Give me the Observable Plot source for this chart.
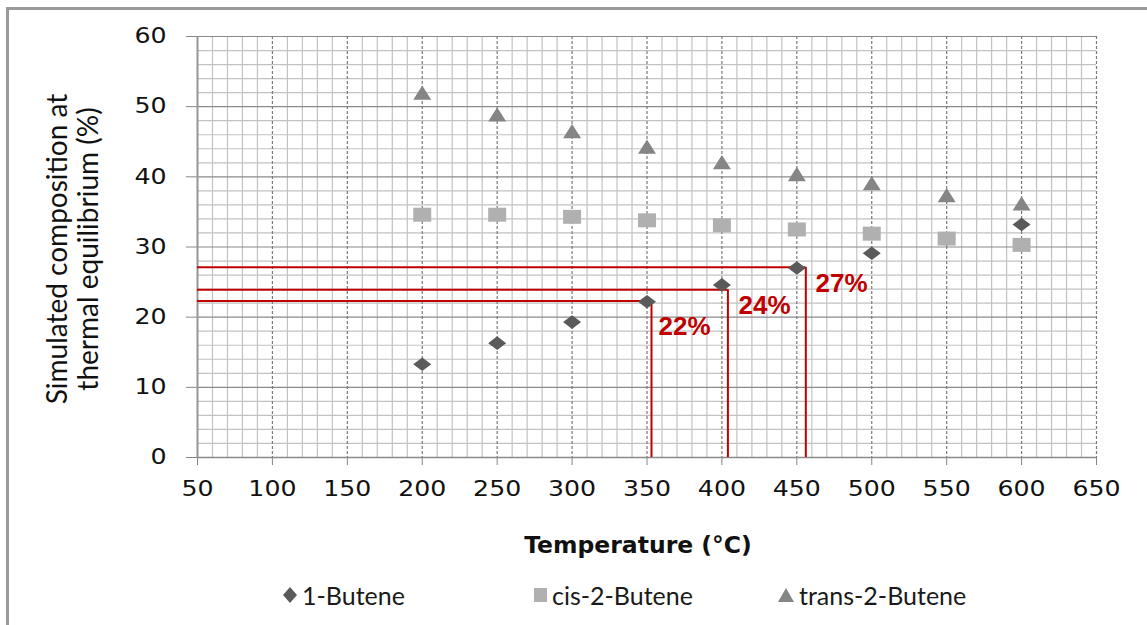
<!DOCTYPE html>
<html>
<head>
<meta charset="utf-8">
<script src="https://cdn.jsdelivr.net/npm/d3@7"></script>
<script src="https://cdn.jsdelivr.net/npm/@observablehq/plot@0.6"></script>
<style>
  html, body { margin: 0; padding: 0; background: #fff; }
  body { width: 1147px; height: 625px; overflow: hidden; position: relative; }
  #frame { position: absolute; left: 6px; top: 7px; width: 1300px; height: 800px;
           border-left: 3px solid #9a9a9a; border-top: 3px solid #9a9a9a; pointer-events: none; }
  #chart { position: absolute; left: 0; top: 0; }
  #legend { position: absolute; left: 0; top: 570px; width: 1147px; height: 55px;
            font-family: Lato, "Noto Sans", sans-serif; font-size: 25px; color: #1a1a1a; }
  .item { position: absolute; top: 0; height: 50px; display: flex; align-items: center; white-space: nowrap; }
  .item svg { display: block; margin-right: 5px; }
  #chart g[aria-label="x-axis tick"], #chart g[aria-label="y-axis tick"] { stroke: #868686; }
  #chart g[aria-label="x-axis"] .tick line, #chart g[aria-label="y-axis"] .tick line { stroke: #868686; }
  #chart g[aria-label="x-axis"] .domain, #chart g[aria-label="y-axis"] .domain { display: none; }
</style>
</head>
<body>
<div id="chart"></div>
<div id="legend"></div>
<div id="frame"></div>
<script>
// ---------- data ----------
const temperature = [200, 250, 300, 350, 400, 450, 500, 550, 600];
const butene1     = [13.3, 16.3, 19.3, 22.2, 24.6, 27.0, 29.1, 31.1, 33.2];
const cis2butene  = [34.6, 34.6, 34.3, 33.8, 33.1, 32.5, 31.9, 31.2, 30.3];
const trans2butene= [52.0, 48.9, 46.5, 44.3, 42.1, 40.4, 39.1, 37.4, 36.2];
const seriesNames = ["1-Butene", "cis-2-Butene", "trans-2-Butene"];

const xDomain = [50, 650];
const yDomain = [0, 60];
const xTicks = [50, 100, 150, 200, 250, 300, 350, 400, 450, 500, 550, 600, 650];
const yTicks = [0, 10, 20, 30, 40, 50, 60];
const xMinorStep = 10;
const yMinorStep = 2;

// red guide lines (temperature, composition) and their labels
const guideTemps  = [353, 404, 456];
const guideValues = [22.3, 23.9, 27.1];
const guideLabels = ["22%", "24%", "27%"];
const labelTemps  = [357.7, 411.1, 462.5];
const labelValues = [17.4, 20.5, 23.6];

const xTitle = "Temperature (°C)";
const yTitle = "Simulated composition at\nthermal equilibrium (%)";

// ---------- derived tables ----------
const rows = (vals) => temperature.map((t, i) => ({t, v: vals[i]}));
const guides = guideLabels.map((label, i) => ({t: guideTemps[i], v: guideValues[i], lt: labelTemps[i], lv: labelValues[i], label}));
const xMinor = d3.range(xDomain[0], xDomain[1] + 1, xMinorStep).filter(v => !xTicks.includes(v));
const yMinor = d3.range(yDomain[0], yDomain[1] + 1, yMinorStep).filter(v => !yTicks.includes(v));
const xMajor = xTicks.filter(v => v !== xDomain[0]);
const yMajor = yTicks.filter(v => v !== yDomain[0]);

// stretched marker shapes like the original
const diamond = {draw(c) { c.moveTo(0, -6.8); c.lineTo(9, 0); c.lineTo(0, 6.8); c.lineTo(-9, 0); c.closePath(); }};
const square  = {draw(c) { c.rect(-9, -7, 18, 14); }};
const triangle= {draw(c) { c.moveTo(0, -7.2); c.lineTo(9, 7.1); c.lineTo(-9, 7.1); c.closePath(); }};
const colors = ["#5a5a5a", "#b0b0b0", "#858585"];

const plot = Plot.plot({
  width: 1147,
  height: 570,
  marginLeft: 197,
  marginRight: 51,
  marginTop: 36,
  marginBottom: 113,
  style: {fontFamily: "'DejaVu Sans', Verdana, sans-serif", fontSize: "21px", color: "#111", background: "transparent", overflow: "visible"},
  x: {domain: xDomain, ticks: xTicks, tickSize: 8, tickPadding: 16, label: null},
  y: {domain: yDomain, ticks: yTicks, tickSize: 11, tickPadding: 20, label: null},
  marks: [
    Plot.ruleX(xMinor, {stroke: "#c2c2c2", strokeWidth: 1.2}),
    Plot.ruleY(yMinor, {stroke: "#c2c2c2", strokeWidth: 1.2}),
    Plot.ruleY(yMajor, {stroke: "#8a8a8a", strokeWidth: 1.2}),
    Plot.ruleX(xMajor, {stroke: "#7a7a7a", strokeWidth: 1.2, strokeDasharray: "3,2"}),
    Plot.ruleX([xDomain[0]], {stroke: "#959595", strokeWidth: 2}),
    Plot.ruleY([yDomain[0]], {stroke: "#8a8a8a", strokeWidth: 1.5}),
    Plot.ruleY(guides, {y: "v", x1: () => xDomain[0], x2: "t", stroke: "#c00000", strokeWidth: 2}),
    Plot.ruleX(guides, {x: "t", y1: () => yDomain[0], y2: "v", stroke: "#c00000", strokeWidth: 2}),
    Plot.dot(rows(butene1), {x: "t", y: "v", symbol: diamond, fill: colors[0], stroke: "none"}),
    Plot.dot(rows(cis2butene), {x: "t", y: "v", symbol: square, fill: colors[1], stroke: "none"}),
    Plot.dot(rows(trans2butene), {x: "t", y: "v", symbol: triangle, fill: colors[2], stroke: "none"}),
    Plot.text(guides, {x: "lt", y: "lv", text: "label", textAnchor: "start", lineAnchor: "bottom",
      fill: "#c00000", fontFamily: "'Liberation Sans', Arial, sans-serif", fontWeight: "bold", fontSize: 26}),
    Plot.text([xTitle], {text: d => d, frameAnchor: "bottom", lineAnchor: "bottom", dx: -9, dy: 95,
      fontFamily: "'DejaVu Sans', Verdana, sans-serif", fontWeight: "bold", fontSize: 23.5, fill: "#111"}),
    Plot.text([yTitle], {text: d => d, frameAnchor: "left", rotate: -90, lineAnchor: "top", textAnchor: "middle",
      dx: -152, dy: 2, lineHeight: 1.1, fontFamily: "Lato, 'Noto Sans', sans-serif", fontSize: 28, fill: "#111"})
  ]
});
document.getElementById("chart").appendChild(plot);

// widen tick labels like the stretched original
plot.querySelectorAll('g[aria-label="x-axis tick label"] text, g[aria-label="y-axis tick label"] text, g[aria-label="x-axis"] .tick text, g[aria-label="y-axis"] .tick text')
  .forEach(t => {
    const L = t.getComputedTextLength();
    t.setAttribute("textLength", (L * 1.2).toFixed(1));
    t.setAttribute("lengthAdjust", "spacingAndGlyphs");
  });

// ---------- legend ----------
const legendPos = [{m: 283, w: 14}, {m: 534, w: 13}, {m: 778, w: 16}];
const legendShapes = [
  (c) => `<polygon points="7,0 14,8 7,16 0,8" fill="${c}"/>`,
  (c) => `<rect x="0" y="1" width="13" height="14" fill="${c}"/>`,
  (c) => `<polygon points="8,1 16,15 0,15" fill="${c}"/>`
];
const legend = document.getElementById("legend");
seriesNames.forEach((name, i) => {
  const el = document.createElement("div");
  el.className = "item";
  el.style.left = legendPos[i].m + "px";
  el.innerHTML = `<svg width="${legendPos[i].w}" height="16">${legendShapes[i](colors[i])}</svg><span>${name}</span>`;
  legend.appendChild(el);
});
</script>
</body>
</html>
